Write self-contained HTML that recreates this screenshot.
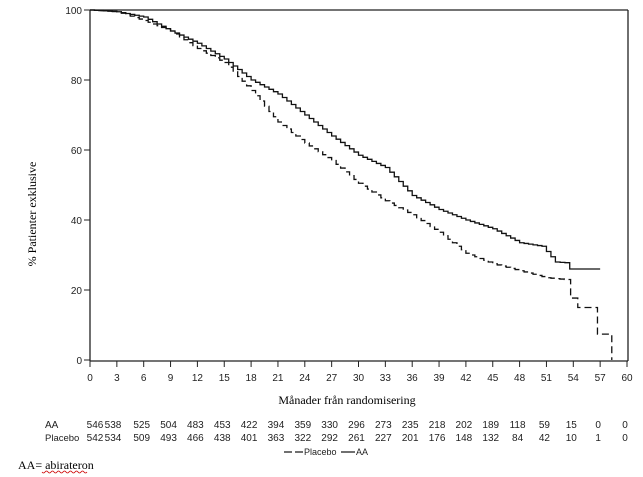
<!DOCTYPE html>
<html><head><meta charset="utf-8"><style>
body{margin:0;background:#fff;width:643px;height:477px;overflow:hidden}
svg{display:block}
text{font-family:"Liberation Sans",sans-serif;font-size:10px;fill:#222}
.s{font-family:"Liberation Serif",serif;font-size:12px;fill:#000}
</style></head><body>
<svg width="643" height="477" viewBox="0 0 643 477">
<g stroke="#222" stroke-width="1.3" fill="none">
<line x1="90" y1="10" x2="90" y2="361"/>
<line x1="90" y1="10" x2="628" y2="10"/>
<line x1="628" y1="10" x2="628" y2="361"/>
<line x1="90" y1="361" x2="628" y2="361"/>
</g>
<g stroke="#222" stroke-width="1">
<line x1="84" y1="10" x2="90" y2="10"/><line x1="84" y1="80" x2="90" y2="80"/><line x1="84" y1="150" x2="90" y2="150"/><line x1="84" y1="220" x2="90" y2="220"/><line x1="84" y1="290" x2="90" y2="290"/><line x1="84" y1="360" x2="90" y2="360"/>
</g>
<g text-anchor="end">
<text x="82" y="14">100</text><text x="82" y="84">80</text><text x="82" y="154">60</text><text x="82" y="224">40</text><text x="82" y="294">20</text><text x="82" y="364">0</text>
</g>
<g id="xt" stroke="#222" stroke-width="1"></g>
<g id="xl" text-anchor="middle"></g>
<text class="s" transform="translate(36,214) rotate(-90)" text-anchor="middle">% Patienter exklusive</text>
<text class="s" x="347" y="404" text-anchor="middle">Månader från randomisering</text>
<g id="curves" fill="none" stroke="#111" stroke-width="1.3"></g>
<text x="45" y="428">AA</text>
<text x="45" y="441" style="font-size:9.5px">Placebo</text>
<g id="risk" text-anchor="middle"></g>
<g stroke="#111" stroke-width="1.2"><line x1="284" y1="452" x2="292" y2="452"/><line x1="295" y1="452" x2="303" y2="452"/><line x1="341" y1="452" x2="355" y2="452"/></g>
<text x="304" y="455" style="font-size:9px">Placebo</text>
<text x="356" y="455" style="font-size:9px">AA</text>
<text class="s" x="18" y="469">AA= abirateron</text>
<path d="M42 472 q1.5 2 3 0 t3 0 t3 0 t3 0 t3 0 t3 0 t3 0 t3 0 t3 0 t3 0 t3 0 t3 0 t3 0 t3 0 t3 0" stroke="#c00" stroke-width="0.8" fill="none"/>
</svg>
<script>
var NS="http://www.w3.org/2000/svg";
function X(m){return 90+8.95*m}function Y(p){return 360-3.5*p}
var xt=document.getElementById('xt'),xl=document.getElementById('xl');
for(var m=0;m<=60;m+=3){var l=document.createElementNS(NS,'line');l.setAttribute('x1',X(m));l.setAttribute('x2',X(m));l.setAttribute('y1',361);l.setAttribute('y2',367);xt.appendChild(l);
var t=document.createElementNS(NS,'text');t.setAttribute('x',X(m));t.setAttribute('y',381);t.textContent=m;xl.appendChild(t);}
function step(pts){var d='M'+X(pts[0][0])+' '+Y(pts[0][1]);for(var i=1;i<pts.length;i++){d+=' L'+X(pts[i][0])+' '+Y(pts[i-1][1])+' L'+X(pts[i][0])+' '+Y(pts[i][1]);}return d;}
function dense(pts){var o=[];for(var i=0;i<pts.length-1;i++){var a=pts[i],b=pts[i+1];var n=Math.max(1,Math.round((b[0]-a[0])*2));for(var k=0;k<n;k++){o.push([a[0]+(b[0]-a[0])*k/n,a[1]+(b[1]-a[1])*k/n]);}}o.push(pts[pts.length-1]);return o;}
var aa=dense([[0,100],[3,99.5],[6,98],[9,94],[12,90.5],[15,86],[18,80],[21,76],[24,70],[27,64],[30,58.5],[33,55],[36,47],[39,43],[42,40],[45,37.5],[48,33.5],[50.5,32.5],[52,28],[53.6,27.7]]).concat([[53.6,26],[57,26]]);
var pl=dense([[0,100],[3,99.5],[6,97],[9,94],[12,89],[15,85],[18,77],[21,68],[24,62],[27,57],[30,50.5],[33,45.5],[36,41.5],[39,36.5],[42,30.5],[45,27.5],[48,25.5],[51,23.5],[53,23]]).concat([[53.7,17.7],[54.5,15],[56.7,7.4],[58.3,0]]);
var g=document.getElementById('curves');
var p1=document.createElementNS(NS,'path');p1.setAttribute('d',step(aa));g.appendChild(p1);
var p2=document.createElementNS(NS,'path');p2.setAttribute('d',step(pl));p2.setAttribute('stroke-dasharray','7,4');g.appendChild(p2);
var A=[546,538,525,504,483,453,422,394,359,330,296,273,235,218,202,189,118,59,15,0,0];
var P=[542,534,509,493,466,438,401,363,322,292,261,227,201,176,148,132,84,42,10,1,0];
var r=document.getElementById('risk');
for(var i=0;i<21;i++){var mm=i*3;var x=X(mm)-2;if(i==0)x=95;if(i==1)x=113;
[[A[i],428],[P[i],441]].forEach(function(v){var t=document.createElementNS(NS,'text');t.setAttribute('x',x);t.setAttribute('y',v[1]);t.textContent=v[0];r.appendChild(t);});}
</script>
</body></html>
